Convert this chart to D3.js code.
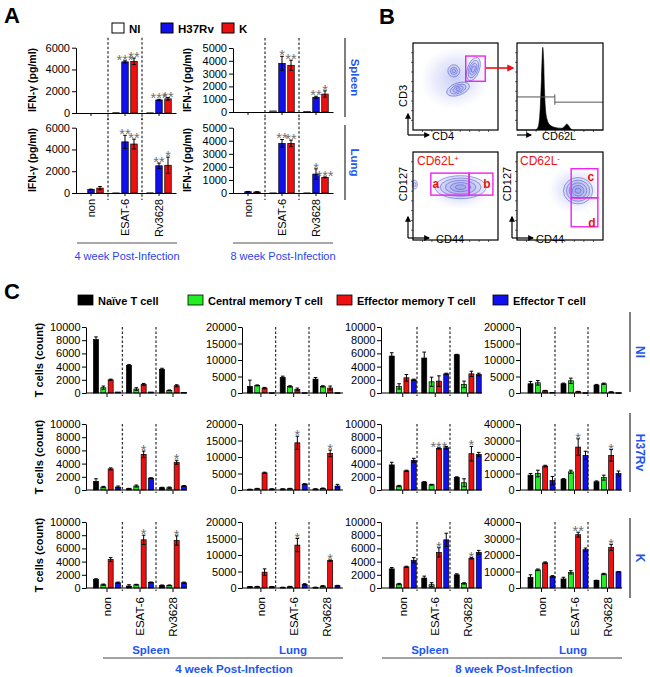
<!DOCTYPE html>
<html><head><meta charset="utf-8">
<script src="https://cdn.jsdelivr.net/npm/d3@7"></script>
<style>
body{margin:0;background:#fff}
svg{display:block}
text{font-family:Arial,"Liberation Sans",sans-serif}
</style>
</head><body>
<svg id="c" width="650" height="677"></svg>
<script>
// ================= DATA =================
// ---- Panel A (IFN-gamma, pg/ml) : values[group][series]
const groupsA = ["non", "ESAT-6", "Rv3628"];
const seriesA = ["NI", "H37Rv", "K"];
const ifnYTicks4w = [0, 2000, 4000, 6000];
const ifnYTicks8w = [0, 1000, 2000, 3000, 4000, 5000];

const ifn4wSpleen    = [[0, 0, 0], [30, 4700, 4750], [20, 1200, 1300]];
const ifn4wSpleenErr = [[0, 0, 0], [0, 100, 300], [0, 60, 120]];
const ifn4wSpleenSig = [["", "", ""], ["", "***", "**"], ["", "***", "**"]];

const ifn8wSpleen    = [[0, 0, 0], [80, 3800, 3650], [40, 1150, 1400]];
const ifn8wSpleenErr = [[0, 0, 0], [0, 550, 400], [0, 80, 250]];
const ifn8wSpleenSig = [["", "", ""], ["", "*", "**"], ["", "**", "*"]];

const ifn4wLung    = [[0, 330, 450], [10, 4700, 4500], [20, 2500, 2550]];
const ifn4wLungErr = [[0, 30, 150], [0, 600, 450], [0, 250, 750]];
const ifn4wLungSig = [["", "", ""], ["", "**", "**"], ["", "**", "*"]];

const ifn8wLung    = [[0, 100, 80], [10, 3800, 3800], [10, 1450, 1200]];
const ifn8wLungErr = [[0, 20, 15], [0, 300, 250], [0, 400, 30]];
const ifn8wLungSig = [["", "", ""], ["", "**", "**"], ["", "*", "***"]];

// ---- Panel C (T cells, count) : values[group][cellType]
const cellTypes = ["Naïve T cell", "Central memory T cell", "Effector memory T cell", "Effector T cell"];
const groupsC = ["non", "ESAT-6", "Rv3628"];
const rowLabels = ["NI", "H37Rv", "K"];
const tissueLabels = ["Spleen", "Lung", "Spleen", "Lung"];
const weekLabels = ["4 week Post-Infection", "8 week Post-Infection"];
const ticks10k = [0, 2000, 4000, 6000, 8000, 10000];
const ticks20k = [0, 5000, 10000, 15000, 20000];
const ticks40k = [0, 10000, 20000, 30000, 40000];

// 4 week spleen
const s4NI     = [[8100, 800, 2000, 150], [4200, 600, 1300, 150], [3600, 400, 1100, 100]];
const s4NIerr  = [[400, 250, 100, 0], [100, 200, 150, 0], [150, 60, 150, 0]];
const s4H      = [[1300, 450, 3200, 450], [200, 600, 5400, 1800], [350, 350, 4200, 600]];
const s4Herr   = [[400, 100, 150, 150], [50, 150, 500, 60], [60, 100, 300, 80]];
const s4Hsig   = [["", "", "", ""], ["", "", "*", ""], ["", "", "*", ""]];
const s4K      = [[1300, 500, 4300, 800], [300, 500, 7300, 850], [400, 400, 7200, 800]];
const s4Kerr   = [[100, 100, 300, 100], [200, 60, 700, 60], [60, 60, 700, 100]];
const s4Ksig   = [["", "", "", ""], ["", "", "*", ""], ["", "", "*", ""]];
// 4 week lung
const l4NI     = [[2000, 2300, 1500, 100], [4700, 2000, 1100, 100], [4200, 2000, 1500, 100]];
const l4NIerr  = [[1900, 150, 200, 0], [400, 200, 400, 0], [500, 200, 600, 0]];
const l4H      = [[200, 400, 5200, 300], [300, 400, 14300, 1800], [300, 500, 11100, 1200]];
const l4Herr   = [[50, 100, 200, 50], [50, 100, 2000, 100], [50, 100, 1000, 500]];
const l4Hsig   = [["", "", "", ""], ["", "", "*", ""], ["", "", "*", ""]];
const l4K      = [[400, 400, 4800, 400], [200, 400, 13000, 1100], [200, 600, 8300, 700]];
const l4Kerr   = [[50, 100, 1000, 50], [50, 100, 2000, 200], [50, 100, 200, 100]];
const l4Ksig   = [["", "", "", ""], ["", "", "*", ""], ["", "", "*", ""]];
// 8 week spleen
const s8NI     = [[5600, 1000, 2300, 2000], [5300, 1700, 1800, 2900], [5800, 1300, 2900, 2800]];
const s8NIerr  = [[500, 400, 500, 100], [900, 700, 800, 100], [60, 500, 400, 200]];
const s8H      = [[3800, 600, 2900, 4500], [1200, 800, 6300, 6400], [1900, 1100, 5500, 5400]];
const s8Herr   = [[400, 100, 100, 300], [60, 60, 100, 200], [100, 600, 1100, 300]];
const s8Hsig   = [["", "", "", ""], ["", "", "***", ""], ["", "", "*", ""]];
const s8K      = [[2900, 600, 3200, 4200], [1500, 500, 5400, 7300], [2000, 700, 4500, 5400]];
const s8Kerr   = [[200, 100, 100, 400], [300, 300, 700, 1000], [150, 100, 100, 300]];
const s8Ksig   = [["", "", "", ""], ["", "", "*", ""], ["", "", "*", ""]];
// 8 week lung
const l8NI     = [[2800, 3100, 700, 200], [2800, 3700, 400, 100], [2400, 2800, 300, 100]];
const l8NIerr  = [[700, 700, 100, 0], [200, 800, 100, 0], [200, 200, 50, 0]];
const l8H      = [[9000, 10000, 14500, 5700], [6500, 11000, 26000, 21000], [5000, 7500, 21000, 10000]];
const l8Herr   = [[1000, 2000, 500, 2500], [400, 1000, 5000, 2500], [500, 1500, 3500, 1500]];
const l8Hsig   = [["", "", "", ""], ["", "", "*", ""], ["", "", "*", ""]];
const l8K      = [[6500, 11000, 15300, 7000], [5500, 9500, 32300, 23200], [4500, 8500, 24500, 9800]];
const l8Kerr   = [[1500, 500, 500, 500], [1000, 1000, 1500, 1000], [200, 400, 1800, 100]];
const l8Ksig   = [["", "", "", ""], ["", "", "**", ""], ["", "", "*", ""]];
const noSig    = [["", "", "", ""], ["", "", "", ""], ["", "", "", ""]];

// ---- Panel B (flow cytometry sketch, unit coordinates 0..1)
const flowCD3CD4Blobs = [
  {u: 0.50, v: 0.60, ru: 0.42, rv: 0.36, rot: -15, cloud: true},
  {u: 0.53, v: 0.47, ru: 0.14, rv: 0.07, rot: -20, levels: [1, 0.7, 0.45, 0.2]},
  {u: 0.48, v: 0.68, ru: 0.07, rv: 0.07, rot: 0, levels: [1, 0.6, 0.3]},
  {u: 0.71, v: 0.70, ru: 0.07, rv: 0.14, rot: 20, levels: [1, 0.75, 0.5, 0.28]}
];
const flowCD3CD4Gate = [{u0: 0.62, u1: 0.85, v0: 0.56, v1: 0.85}];
const histCD62L = [[0, 0], [0.2, 0], [0.23, 0.01], [0.25, 0.05], [0.27, 0.25], [0.285, 0.6], [0.3, 0.95],
  [0.31, 0.8], [0.32, 0.45], [0.33, 0.25], [0.35, 0.12], [0.38, 0.06], [0.44, 0.03], [0.52, 0.02],
  [0.56, 0.05], [0.58, 0.07], [0.6, 0.05], [0.63, 0.01], [0.66, 0], [1, 0]];
const histGateLow = [[0, 0.38], [0.44, 0.38]];
const histGateHigh = [[0.44, 0.32], [1, 0.32]];
const flowPosBlobs = [
  {u: 0.55, v: 0.57, ru: 0.38, rv: 0.22, rot: 0, cloud: true},
  {u: 0.56, v: 0.6, ru: 0.3, rv: 0.13, rot: 0, levels: [1, 0.8, 0.6, 0.4, 0.2]},
  {u: 0.02, v: 0.63, ru: 0.03, rv: 0.05, rot: 0, levels: [1, 0.5]}
];
const flowPosGates = [{u0: 0.21, u1: 0.66, v0: 0.51, v1: 0.76, label: "a", lu: 0.27, lv: 0.64},
                      {u0: 0.66, u1: 0.94, v0: 0.51, v1: 0.76, label: "b", lu: 0.87, lv: 0.64}];
const flowNegBlobs = [
  {u: 0.68, v: 0.57, ru: 0.32, rv: 0.27, rot: 0, cloud: true},
  {u: 0.71, v: 0.56, ru: 0.17, rv: 0.15, rot: 0, levels: [1, 0.8, 0.6, 0.4, 0.2]}
];
const flowNegGates = [{u0: 0.63, u1: 0.94, v0: 0.48, v1: 0.81, label: "c", lu: 0.86, lv: 0.72},
                      {u0: 0.63, u1: 0.94, v0: 0.15, v1: 0.48, label: "d", lu: 0.87, lv: 0.2}];

// ================= DRAWING =================
const svg = d3.select("#c");
const BLUE_TXT = "#1d55f5";
const STAR = "#707070";
const colorsA = ["#ffffff", "#1010ee", "#ee1010"];
const colorsC = ["#000000", "#22ee22", "#ee1010", "#1010ee"];

function styleAxis(g, fs) {
  g.attr("font-family", "Arial, 'Liberation Sans', sans-serif").attr("font-size", fs);
  g.selectAll("path,line").attr("stroke", "#000").attr("stroke-width", 1);
  g.selectAll("text").attr("fill", "#000");
}

function drawBars(g, cfg) {
  const {groups, series, colors, vals, errs, sigs, xb, inner, y, bw, base} = cfg;
  groups.forEach((gr, gi) => {
    series.forEach((s, si) => {
      const v = vals[gi][si], e = errs ? errs[gi][si] : 0;
      const cx = xb(gr) + xb.bandwidth() / 2 + inner(s);
      if (v > 0) {
        g.append("rect").attr("x", cx - bw / 2).attr("y", y(v)).attr("width", bw)
          .attr("height", Math.max(0.8, base - y(v))).attr("fill", colors[si])
          .attr("stroke", "#000").attr("stroke-width", 0.7);
      }
      if (e > 0) {
        const lo = y(Math.max(0, v - e)), hi = y(v + e);
        g.append("line").attr("x1", cx).attr("x2", cx).attr("y1", lo).attr("y2", hi).attr("stroke", "#000").attr("stroke-width", 1);
        [lo, hi].forEach(yy => g.append("line").attr("x1", cx - 1.8).attr("x2", cx + 1.8).attr("y1", yy).attr("y2", yy).attr("stroke", "#000").attr("stroke-width", 1));
      }
      const sg = sigs ? sigs[gi][si] : "";
      if (sg) {
        g.append("text").attr("x", cx).attr("y", y(v + e) + 4).attr("text-anchor", "middle")
          .attr("font-size", 14.5).attr("fill", STAR).text(sg);
      }
    });
  });
}

// ---------- Panel A ----------
svg.append("text").attr("x", 4).attr("y", 23).attr("font-size", 22).attr("font-weight", "bold").text("A");
const legA = [{x: 112}, {x: 161}, {x: 222}];
seriesA.forEach((s, i) => {
  svg.append("rect").attr("x", legA[i].x).attr("y", 23).attr("width", 12).attr("height", 10)
    .attr("fill", colorsA[i]).attr("stroke", "#000").attr("stroke-width", 1);
  svg.append("text").attr("x", legA[i].x + 17).attr("y", 32.5).attr("font-size", 11.5).attr("font-weight", "bold").text(s);
});

function chartA(x0, x1, y0, y1, ticks, vals, errs, sigs, showX) {
  const g = svg.append("g");
  const xb = d3.scaleBand().domain(groupsA).range([x0 - 2, x1]);
  const inner = d3.scalePoint().domain(seriesA).range([-9, 9]);
  const y = d3.scaleLinear().domain([0, d3.max(ticks)]).range([y1, y0]);
  groupsA.slice(1).forEach(gr => {
    g.append("line").attr("x1", xb(gr)).attr("x2", xb(gr)).attr("y1", y0 - 10).attr("y2", y1 + 7)
      .attr("stroke", "#000").attr("stroke-width", 1).attr("stroke-dasharray", "2.5,2");
  });
  drawBars(g, {groups: groupsA, series: seriesA, colors: colorsA, vals, errs, sigs, xb, inner, y, bw: 6.5, base: y1});
  const ya = g.append("g").attr("transform", `translate(${x0},0)`)
    .call(d3.axisLeft(y).tickValues(ticks).tickSize(4).tickSizeOuter(0).tickPadding(2).tickFormat(d3.format("d")));
  styleAxis(ya, 11);
  const xa = g.append("g").attr("transform", `translate(0,${y1})`)
    .call(d3.axisBottom(xb).tickSize(3).tickSizeOuter(0).tickFormat(""));
  styleAxis(xa, 11);
  if (showX) {
    groupsA.forEach(gr => {
      g.append("text").attr("transform", `translate(${xb(gr) + xb.bandwidth() / 2},${y1 + 6})rotate(-90)`)
        .attr("text-anchor", "end").attr("dy", "0.35em").attr("font-size", 11).text(gr);
    });
  }
  return xb;
}
const yLabA = (x, yc) => svg.append("text").attr("transform", `translate(${x},${yc})rotate(-90)`)
  .attr("text-anchor", "middle").attr("font-size", 10.5).attr("font-weight", "bold").text("IFN-γ (pg/ml)");

chartA(76, 176, 47.7, 113, ifnYTicks4w, ifn4wSpleen, ifn4wSpleenErr, ifn4wSpleenSig, false);
chartA(233, 333, 48, 112, ifnYTicks8w, ifn8wSpleen, ifn8wSpleenErr, ifn8wSpleenSig, false);
chartA(76, 176, 127.7, 193, ifnYTicks4w, ifn4wLung, ifn4wLungErr, ifn4wLungSig, true);
chartA(233, 333, 127.7, 193, ifnYTicks8w, ifn8wLung, ifn8wLungErr, ifn8wLungSig, true);
yLabA(36, 80); yLabA(191, 80); yLabA(36, 160); yLabA(191, 160);

[[38, 117, "Spleen"], [125, 200, "Lung"]].forEach(([a, b, t]) => {
  svg.append("line").attr("x1", 345).attr("x2", 345).attr("y1", a).attr("y2", b).attr("stroke", "#000").attr("stroke-width", 1);
  svg.append("text").attr("transform", `translate(351,${(a + b) / 2})rotate(90)`).attr("text-anchor", "middle")
    .attr("font-size", 11.5).attr("font-weight", "bold").attr("fill", BLUE_TXT).text(t);
});
[[77, 177, weekLabels[0]], [233, 333, weekLabels[1]]].forEach(([a, b, t]) => {
  svg.append("line").attr("x1", a).attr("x2", b).attr("y1", 243).attr("y2", 243).attr("stroke", "#555").attr("stroke-width", 1.2);
  svg.append("text").attr("x", (a + b) / 2).attr("y", 260).attr("text-anchor", "middle")
    .attr("font-size", 11).attr("fill", "#2a45ee").text(t);
});

// ---------- Panel B ----------
svg.append("text").attr("x", 379).attr("y", 24).attr("font-size", 22).attr("font-weight", "bold").text("B");
const defs = svg.append("defs");
const rg = defs.append("radialGradient").attr("id", "cloud");
rg.append("stop").attr("offset", "0%").attr("stop-color", "#6670e0").attr("stop-opacity", 0.35);
rg.append("stop").attr("offset", "60%").attr("stop-color", "#8a92ea").attr("stop-opacity", 0.18);
rg.append("stop").attr("offset", "100%").attr("stop-color", "#a8aff2").attr("stop-opacity", 0);
defs.append("marker").attr("id", "arrK").attr("viewBox", "0 0 10 10").attr("refX", 8).attr("refY", 5)
  .attr("markerWidth", 5).attr("markerHeight", 5).attr("orient", "auto")
  .append("path").attr("d", "M0,0L10,5L0,10z").attr("fill", "#000");
defs.append("marker").attr("id", "arrR").attr("viewBox", "0 0 10 10").attr("refX", 8).attr("refY", 5)
  .attr("markerWidth", 4.5).attr("markerHeight", 4.5).attr("orient", "auto")
  .append("path").attr("d", "M0,0L10,5L0,10z").attr("fill", "#ee1111");

function flowBox(x0, y0, w, h) {
  const g = svg.append("g");
  const u = d3.scaleLinear().domain([0, 1]).range([x0, x0 + w]);
  const v = d3.scaleLinear().domain([0, 1]).range([y0 + h, y0]);
  return {g, u, v, frame: () => {
    g.append("rect").attr("x", x0).attr("y", y0).attr("width", w).attr("height", h).attr("fill", "none").attr("stroke", "#000").attr("stroke-width", 1.2);
    d3.range(1, 9).forEach(i => {
      g.append("line").attr("x1", x0).attr("x2", x0 - 2).attr("y1", v(i / 9)).attr("y2", v(i / 9)).attr("stroke", "#000").attr("stroke-width", 0.6);
      g.append("line").attr("x1", u(i / 9)).attr("x2", u(i / 9)).attr("y1", y0 + h).attr("y2", y0 + h + 2).attr("stroke", "#000").attr("stroke-width", 0.6);
    });
  }};
}
function drawBlobs(b, blobs) {
  blobs.forEach(bl => {
    const cx = b.u(bl.u), cy = b.v(bl.v);
    const rx = Math.abs(b.u(bl.ru) - b.u(0)), ry = Math.abs(b.v(bl.rv) - b.v(0));
    if (bl.cloud) {
      b.g.append("ellipse").attr("cx", cx).attr("cy", cy).attr("rx", rx).attr("ry", ry)
        .attr("transform", `rotate(${bl.rot},${cx},${cy})`).attr("fill", "url(#cloud)");
    } else {
      bl.levels.forEach(k => {
        b.g.append("ellipse").attr("cx", cx).attr("cy", cy).attr("rx", rx * k).attr("ry", ry * k)
          .attr("transform", `rotate(${bl.rot},${cx},${cy})`)
          .attr("fill", "rgba(110,120,230,0.10)").attr("stroke", "#5560d4").attr("stroke-width", 0.6);
      });
    }
  });
}
function drawGates(b, gates) {
  gates.forEach(gt => {
    b.g.append("rect").attr("x", b.u(gt.u0)).attr("y", b.v(gt.v1)).attr("width", b.u(gt.u1) - b.u(gt.u0))
      .attr("height", b.v(gt.v0) - b.v(gt.v1)).attr("fill", "none").attr("stroke", "#ee22ee").attr("stroke-width", 1.4);
    if (gt.label) b.g.append("text").attr("x", b.u(gt.lu)).attr("y", b.v(gt.lv)).attr("dy", "0.35em")
      .attr("text-anchor", "middle").attr("font-size", 12).attr("font-weight", "bold").attr("fill", "#ee1111").text(gt.label);
  });
}
const bTL = flowBox(413, 43, 85, 87);
drawBlobs(bTL, flowCD3CD4Blobs);
drawGates(bTL, flowCD3CD4Gate);
bTL.frame();
svg.append("line").attr("x1", 486).attr("x2", 513).attr("y1", 68).attr("y2", 68).attr("stroke", "#ee1111").attr("stroke-width", 1.6).attr("marker-end", "url(#arrR)");
const bTR = flowBox(517, 43, 86, 87);
bTR.g.append("path").datum(histCD62L).attr("d", d3.line().x(d => bTR.u(d[0])).y(d => bTR.v(d[1])).curve(d3.curveMonotoneX))
  .attr("fill", "#000").attr("stroke", "#000").attr("stroke-width", 0.6);
[histGateLow, histGateHigh].forEach(gl => bTR.g.append("path").datum(gl).attr("d", d3.line().x(d => bTR.u(d[0])).y(d => bTR.v(d[1])))
  .attr("fill", "none").attr("stroke", "#555").attr("stroke-width", 1));
bTR.g.append("line").attr("x1", bTR.u(0.44)).attr("x2", bTR.u(0.44)).attr("y1", bTR.v(0.41)).attr("y2", bTR.v(0.29)).attr("stroke", "#555");
bTR.frame();
const bBL = flowBox(413, 152, 85, 88);
drawBlobs(bBL, flowPosBlobs);
drawGates(bBL, flowPosGates);
bBL.frame();
const bBR = flowBox(517, 152, 86, 88);
drawBlobs(bBR, flowNegBlobs);
drawGates(bBR, flowNegGates);
bBR.frame();
svg.append("text").attr("x", 417).attr("y", 165).attr("font-size", 12).attr("fill", "#ee1111").text("CD62L").append("tspan").attr("dy", -4).attr("font-size", 8).text("+");
svg.append("text").attr("x", 520).attr("y", 165).attr("font-size", 12).attr("fill", "#ee1111").text("CD62L").append("tspan").attr("dy", -4).attr("font-size", 8).text("-");
function axArrows(x, y, len, vert) {
  if (vert) svg.append("line").attr("x1", x).attr("x2", x).attr("y1", y).attr("y2", y - len).attr("stroke", "#000").attr("stroke-width", 1.2).attr("marker-end", "url(#arrK)");
  svg.append("line").attr("x1", x).attr("x2", x + len).attr("y1", y).attr("y2", y).attr("stroke", "#000").attr("stroke-width", 1.2).attr("marker-end", "url(#arrK)");
}
axArrows(408, 135, 21, true);
axArrows(517, 135, 14, false);
axArrows(408, 238, 21, true);
axArrows(512, 238, 21, true);
const fl = (x, y, t, rot) => svg.append("text").attr("transform", `translate(${x},${y})${rot ? "rotate(-90)" : ""}`)
  .attr("text-anchor", rot ? "middle" : "start").attr("font-size", 11).text(t);
fl(432, 139.5, "CD4"); fl(542, 139.5, "CD62L"); fl(436, 243, "CD44"); fl(536, 243, "CD44");
fl(407, 96, "CD3", true); fl(407, 184, "CD127", true); fl(511, 184, "CD127", true);

// ---------- Panel C ----------
svg.append("text").attr("x", 4).attr("y", 299).attr("font-size", 22).attr("font-weight", "bold").text("C");
const legC = [78, 188, 337, 493];
cellTypes.forEach((t, i) => {
  svg.append("rect").attr("x", legC[i]).attr("y", 295).attr("width", 15).attr("height", 10)
    .attr("fill", colorsC[i]).attr("stroke", "#000").attr("stroke-width", 0.8);
  svg.append("text").attr("x", legC[i] + 20).attr("y", 304.5).attr("font-size", 11).attr("font-weight", "bold").text(t);
});

const colsC = [
  {x0: 86, b0: 90.5, step: 33, x1: 187, dash: [122.3, 156]},
  {x0: 242, b0: 244.5, step: 32.8, x1: 343, dash: [275.7, 309]},
  {x0: 381, b0: 386.5, step: 32.5, x1: 482, dash: [417, 450]},
  {x0: 520, b0: 525, step: 33, x1: 622, dash: [555, 588]}
];
const rowsC = [{y0: 327, y1: 393}, {y0: 424, y1: 490}, {y0: 522, y1: 588}];

function chartC(ci, ri, ticks, vals, errs, sigs) {
  const c = colsC[ci], r = rowsC[ri];
  const g = svg.append("g");
  const xb = d3.scaleBand().domain(groupsC).range([c.b0, c.b0 + 3 * c.step]);
  const inner = d3.scalePoint().domain(cellTypes).range([-11, 11]);
  const y = d3.scaleLinear().domain([0, d3.max(ticks)]).range([r.y1, r.y0]);
  c.dash.forEach(dx => g.append("line").attr("x1", dx).attr("x2", dx).attr("y1", r.y0).attr("y2", r.y1 + 3)
    .attr("stroke", "#000").attr("stroke-width", 1).attr("stroke-dasharray", "2.5,2"));
  drawBars(g, {groups: groupsC, series: cellTypes, colors: colorsC, vals, errs, sigs, xb, inner, y, bw: 5, base: r.y1});
  const ya = g.append("g").attr("transform", `translate(${c.x0},0)`)
    .call(d3.axisLeft(y).tickValues(ticks).tickSize(4).tickSizeOuter(0).tickPadding(1.5).tickFormat(d3.format("d")));
  styleAxis(ya, 11);
  g.append("line").attr("x1", c.x0).attr("x2", c.x1).attr("y1", r.y1).attr("y2", r.y1).attr("stroke", "#000").attr("stroke-width", 1);
  const xa = g.append("g").attr("transform", `translate(0,${r.y1})`)
    .call(d3.axisBottom(xb).tickSize(4).tickSizeOuter(0).tickFormat(""));
  xa.select(".domain").remove();
  styleAxis(xa, 11);
  if (ri === 2) {
    groupsC.forEach(gr => g.append("text").attr("transform", `translate(${xb(gr) + xb.bandwidth() / 2},${r.y1 + 9})rotate(-90)`)
      .attr("text-anchor", "end").attr("dy", "0.35em").attr("font-size", 11.5).text(gr));
  }
  if (ci === 0) {
    svg.append("text").attr("transform", `translate(43,${(r.y0 + r.y1) / 2})rotate(-90)`).attr("text-anchor", "middle")
      .attr("font-size", 11).attr("font-weight", "bold").text("T cells (count)");
  }
}
chartC(0, 0, ticks10k, s4NI, s4NIerr, noSig);
chartC(0, 1, ticks10k, s4H, s4Herr, s4Hsig);
chartC(0, 2, ticks10k, s4K, s4Kerr, s4Ksig);
chartC(1, 0, ticks20k, l4NI, l4NIerr, noSig);
chartC(1, 1, ticks20k, l4H, l4Herr, l4Hsig);
chartC(1, 2, ticks20k, l4K, l4Kerr, l4Ksig);
chartC(2, 0, ticks10k, s8NI, s8NIerr, noSig);
chartC(2, 1, ticks10k, s8H, s8Herr, s8Hsig);
chartC(2, 2, ticks10k, s8K, s8Kerr, s8Ksig);
chartC(3, 0, ticks20k, l8NI, l8NIerr, noSig);
chartC(3, 1, ticks40k, l8H, l8Herr, l8Hsig);
chartC(3, 2, ticks40k, l8K, l8Kerr, l8Ksig);

[[312, 392], [413, 492], [518, 598]].forEach(([a, b], i) => {
  svg.append("line").attr("x1", 630).attr("x2", 630).attr("y1", a).attr("y2", b).attr("stroke", "#000").attr("stroke-width", 1);
  svg.append("text").attr("transform", `translate(636,${(a + b) / 2})rotate(90)`).attr("text-anchor", "middle")
    .attr("font-size", 12).attr("font-weight", "bold").attr("fill", BLUE_TXT).text(rowLabels[i]);
});
[151, 293, 430, 573].forEach((x, i) => svg.append("text").attr("x", x).attr("y", 654).attr("text-anchor", "middle")
  .attr("font-size", 11.5).attr("font-weight", "bold").attr("fill", BLUE_TXT).text(tissueLabels[i]));
[[103, 343, 234], [382, 622, 514]].forEach(([a, b, cx], i) => {
  svg.append("line").attr("x1", a).attr("x2", b).attr("y1", 658).attr("y2", 658).attr("stroke", "#444").attr("stroke-width", 1.2);
  svg.append("text").attr("x", cx).attr("y", 673).attr("text-anchor", "middle")
    .attr("font-size", 11.5).attr("font-weight", "bold").attr("fill", BLUE_TXT).text(weekLabels[i]);
});
</script>
</body></html>
